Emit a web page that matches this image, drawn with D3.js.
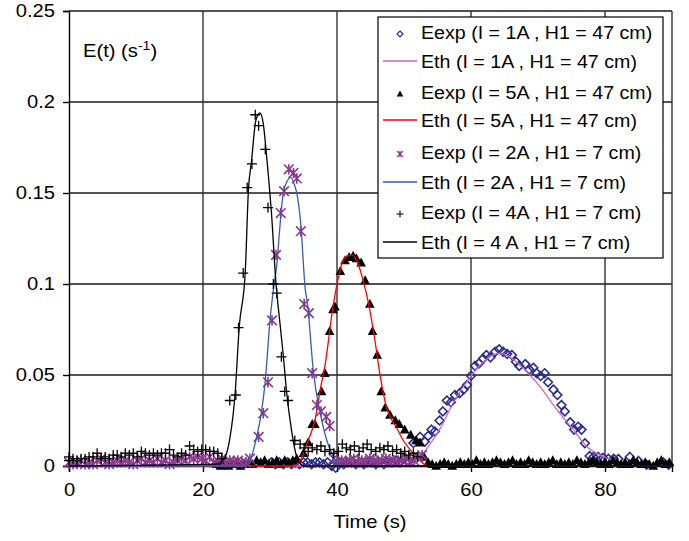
<!DOCTYPE html>
<html><head><meta charset="utf-8">
<script src="https://cdn.jsdelivr.net/npm/d3@7"></script>
<style>
body{margin:0;background:#fff;}
svg{display:block;font-family:"Liberation Sans",Arial,sans-serif;}
</style></head>
<body>
<svg id="chart" width="689" height="541"></svg>
<script>
// ---------- DATA ----------
const xTicks = [0, 20, 40, 60, 80];
const yTicks = [0, 0.05, 0.1, 0.15, 0.2, 0.25];
const yTickLabels = ["0", "0.05", "0.1", "0.15", "0.2", "0.25"];
const legendLabels = [
  "Eexp (I = 1A , H1 = 47 cm)",
  "Eth (I = 1A , H1 = 47 cm)",
  "Eexp (I = 5A , H1 = 47 cm)",
  "Eth (I = 5A , H1 = 47 cm)",
  "Eexp (I = 2A , H1 = 7 cm)",
  "Eth (I = 2A , H1 = 7 cm)",
  "Eexp (I = 4A , H1 = 7 cm)",
  "Eth (I = 4 A , H1 = 7 cm)"
];

// Eexp I=1A, H1=47 cm  [t, E]
const exp1A = [[30.2,0.002],[30.8,0.001],[31.4,0.002],[32.0,0.001],[32.6,0.002],[33.2,0.001],[33.8,0.002],[34.4,0.001],[35.0,0.002],[35.6,0.002],[36.2,0.001],[36.8,0.002],[37.4,0.002],[38.0,0.001],[38.6,0.002],[39.2,0.000],[39.8,-0.001],[40.4,0.002],[41.0,0.001],[41.6,0.002],[42.2,0.002],[42.8,0.001],[43.4,0.002],[44.0,0.001],[44.6,0.002],[45.2,0.002],[45.8,0.001],[46.4,0.002],[47.0,0.001],[47.6,0.002],[48.2,0.002],[48.8,0.003],[49.4,0.002],[50.0,0.004],[50.6,0.003],[51.4,0.0126],[52.4,0.016],[53.1,0.0134],[53.6,0.0165],[54.1,0.020],[54.6,0.019],[55.3,0.025],[55.8,0.030],[56.4,0.036],[57.0,0.035],[57.6,0.039],[58.3,0.040],[58.9,0.042],[59.4,0.0445],[60.0,0.0496],[60.6,0.055],[61.2,0.0564],[61.8,0.059],[62.3,0.061],[62.9,0.0597],[63.6,0.0628],[64.2,0.0641],[64.8,0.0628],[65.4,0.0615],[66.1,0.061],[66.7,0.0573],[67.2,0.055],[68.1,0.056],[68.7,0.053],[69.3,0.054],[69.8,0.051],[70.4,0.0494],[71.0,0.051],[71.5,0.046],[72.3,0.042],[72.9,0.039],[73.5,0.0335],[74.0,0.030],[74.8,0.024],[75.4,0.020],[76.0,0.0216],[76.5,0.020],[77.0,0.0125],[77.7,0.0055],[78.3,0.005],[79.0,0.005],[79.7,0.0045],[80.5,0.004],[81.3,0.004],[82.0,0.0038],[83.7,0.005],[85.0,0.0027],[86.2,0.0007],[88.7,0.002],[89.5,0.0007]];
// Eth I=1A, H1=47 cm
const th1A = [[0,0],[51,0],[52.3,0.004],[53.6,0.0106],[55.3,0.020],[57.4,0.035],[59.9,0.049],[61.8,0.057],[63.0,0.0605],[64.2,0.062],[65.5,0.0605],[67.8,0.0537],[70.3,0.0436],[72.8,0.031],[75.3,0.0198],[77.3,0.0106],[79.3,0.006],[81.2,0.003],[84,0.001],[90,0]];

// Eexp I=5A, H1=47 cm
const exp5A = [[22.0,0.001],[22.6,0.000],[23.2,0.001],[23.8,0.000],[24.4,0.001],[25.0,0.002],[25.6,0.000],[26.2,0.001],[26.8,0.002],[27.4,0.001],[28.0,0.003],[28.6,0.002],[29.2,0.003],[29.8,0.001],[30.4,0.002],[31.0,0.003],[31.6,0.001],[32.2,0.003],[32.8,0.002],[33.4,0.003],[34.0,0.004],[35.0,0.007],[35.7,0.013],[36.3,0.023],[36.7,0.023],[37.7,0.041],[38.2,0.051],[38.9,0.074],[39.4,0.086],[39.7,0.0875],[40.5,0.107],[41.2,0.113],[41.8,0.1147],[42.4,0.1154],[42.9,0.114],[43.6,0.1117],[44.2,0.102],[44.9,0.089],[45.3,0.074],[46.0,0.061],[46.6,0.041],[47.2,0.032],[47.9,0.028],[48.7,0.025],[49.3,0.023],[50.1,0.020],[51.0,0.017],[51.8,0.014],[52.4,0.0128],[53.0,0.005],[53.6,0.002],[54.2,0.001],[54.8,0.000],[55.4,0.001],[56.0,0.002],[56.6,0.001],[57.2,0.000],[57.8,0.001],[58.4,0.002],[59.0,0.001],[59.6,0.002],[60.2,0.001],[60.8,0.003],[61.4,0.001],[62.0,0.002],[62.6,0.001],[63.2,0.002],[63.8,0.003],[64.4,0.002],[65.0,0.001],[65.6,0.002],[66.2,0.003],[66.8,0.001],[67.4,0.002],[68.0,0.001],[68.6,0.003],[69.2,0.002],[69.8,0.001],[70.4,0.002],[71.0,0.001],[71.6,0.002],[72.2,0.003],[72.8,0.001],[73.4,0.002],[74.0,0.001],[74.6,0.002],[75.2,0.001],[75.8,0.003],[76.4,0.002],[77.0,0.001],[77.6,0.002],[78.2,0.003],[78.8,0.002],[79.4,0.001],[80.0,0.002],[80.6,0.001],[81.2,0.003],[81.8,0.002],[82.4,0.001],[83.0,0.002],[83.6,0.001],[84.2,0.003],[84.8,0.002],[85.4,0.001],[86.0,0.002],[86.6,0.001],[87.2,0.000],[87.8,0.002],[88.4,0.003],[89.0,0.001],[89.6,0.002]];
// Eth I=5A, H1=47 cm
const th5A = [[0,0],[33.5,0],[34.5,0.003],[35.0,0.007],[35.7,0.014],[36.7,0.025],[37.6,0.044],[38.2,0.055],[39.4,0.0875],[40.3,0.105],[40.9,0.113],[41.5,0.1155],[42.2,0.116],[42.9,0.113],[43.9,0.102],[44.8,0.0875],[45.7,0.068],[46.4,0.0505],[47.4,0.032],[48.9,0.021],[49.9,0.014],[50.9,0.009],[52.4,0.003],[53.5,0],[90,0]];

// Eexp I=2A, H1=7 cm
const exp2A = [[0,0.002],[0.6,0.001],[1.2,0.002],[1.8,0.003],[2.4,0.001],[3.0,0.002],[3.6,0.001],[4.2,0.003],[4.8,0.004],[5.4,0.002],[6.0,0.001],[6.6,0.002],[7.2,0.003],[7.8,0.002],[8.4,0.003],[9.0,0.002],[9.6,0.001],[10.2,0.003],[10.8,0.004],[11.4,0.002],[12.0,0.003],[12.6,0.002],[13.2,0.004],[13.8,0.002],[14.4,0.003],[15.0,0.001],[15.6,0.002],[16.2,0.003],[16.8,0.004],[17.4,0.003],[18.0,0.005],[18.6,0.004],[19.2,0.005],[19.8,0.004],[20.4,0.003],[21.0,0.005],[21.6,0.002],[22.2,0.003],[22.8,0.004],[23.4,0.002],[24.0,0.003],[24.6,0.002],[25.2,0.003],[25.8,0.002],[26.4,0.002],[27.0,0.004],[28.3,0.016],[29.0,0.029],[29.7,0.046],[30.3,0.080],[30.9,0.116],[31.6,0.139],[32.1,0.151],[32.8,0.163],[33.5,0.161],[34.0,0.158],[34.6,0.129],[35.1,0.089],[35.8,0.084],[36.3,0.051],[37.0,0.0335],[37.6,0.030],[38.4,0.027],[38.9,0.022],[39.5,0.004],[40.1,0.002],[40.7,0.003],[41.3,0.002],[41.9,0.003],[42.5,0.004],[43.1,0.002],[43.7,0.003],[44.3,0.002],[44.9,0.004],[45.5,0.003],[46.1,0.002],[46.7,0.003],[47.3,0.004],[47.9,0.002],[48.5,0.003],[49.1,0.002],[49.7,0.003],[50.3,0.004],[50.9,0.002],[51.5,0.003],[52.1,0.005],[52.7,0.006]];
// Eth I=2A, H1=7 cm
const th2A = [[0,0],[26,0],[27,0.003],[28,0.016],[28.7,0.029],[29.3,0.047],[30.0,0.080],[30.6,0.0995],[31.0,0.110],[31.4,0.128],[31.9,0.148],[32.5,0.156],[33.1,0.1586],[33.6,0.155],[34.1,0.148],[34.7,0.128],[35.0,0.110],[35.2,0.0995],[35.6,0.089],[36.5,0.051],[37.5,0.029],[38.4,0.015],[39.2,0.007],[39.8,0.002],[41,0],[90,0]];

// Eexp I=4A, H1=7 cm
const exp4A = [[0,0.005],[0,0.003],[0.6,0.004],[1.2,0.003],[1.8,0.004],[2.4,0.004],[3.0,0.005],[3.6,0.005],[4.2,0.007],[4.8,0.004],[5.4,0.005],[6.0,0.004],[6.6,0.006],[7.2,0.006],[7.8,0.005],[8.4,0.007],[9.0,0.006],[9.6,0.007],[10.2,0.005],[10.8,0.008],[11.4,0.007],[12.0,0.006],[12.6,0.007],[13.2,0.006],[13.8,0.007],[14.4,0.007],[15.0,0.009],[15.6,0.006],[16.2,0.005],[16.8,0.007],[17.4,0.006],[18.0,0.011],[18.6,0.009],[19.2,0.008],[19.8,0.009],[20.4,0.009],[21.0,0.008],[21.6,0.008],[22.2,0.007],[22.8,0.004],[24.0,0.036],[24.9,0.039],[25.3,0.076],[26.0,0.106],[26.6,0.153],[27.3,0.166],[27.8,0.193],[28.3,0.187],[29.3,0.174],[29.7,0.142],[30.5,0.100],[31.0,0.095],[31.7,0.060],[32.2,0.041],[32.7,0.036],[33.7,0.014],[34.5,0.012],[35.1,0.010],[35.7,0.008],[36.3,0.010],[37.0,0.009],[37.6,0.011],[38.2,0.008],[38.9,0.009],[39.5,0.007],[40.2,0.008],[40.8,0.012],[41.4,0.010],[42.0,0.009],[42.6,0.011],[43.3,0.008],[43.9,0.010],[44.5,0.012],[45.1,0.009],[45.8,0.008],[46.4,0.010],[47.0,0.009],[47.6,0.011],[48.3,0.008],[48.9,0.009],[49.5,0.007],[50.1,0.008],[50.7,0.006],[51.4,0.007],[52.0,0.005]];
// Eth I=4A, H1=7 cm
const th4A = [[0,0],[22,0.001],[23.3,0.005],[24.0,0.015],[24.8,0.04],[25.4,0.076],[26.3,0.106],[26.8,0.153],[27.2,0.166],[27.9,0.19],[28.5,0.194],[29.0,0.188],[29.4,0.174],[29.8,0.158],[30.2,0.14],[30.9,0.10],[31.5,0.078],[32.0,0.06],[32.5,0.04],[33.2,0.02],[34.0,0.005],[35,0],[90,0]];

// ---------- CHART ----------
const svg = d3.select("#chart");
const x = d3.scaleLinear().domain([0, 90]).range([69, 672]);
const y = d3.scaleLinear().domain([0, 0.25]).range([466, 11]);
const FONT = 18.5;
const STRETCH = 1.09;

const diamondColor = "#2b2e8c";
const starColor = "#8a3a8c";
const lineColors = {th1A: "#cc66cc", th5A: "#ff0000", th2A: "#3a5bb0", th4A: "#000000"};

// grid
const grid = svg.append("g");
grid.selectAll("line.h").data(yTicks.filter(d => d > 0)).join("line")
  .attr("x1", x(0)).attr("x2", x(90)).attr("y1", d => y(d)).attr("y2", d => y(d))
  .attr("stroke", "#1a1a1a").attr("stroke-width", 1.4);
grid.selectAll("line.v").data(xTicks.filter(d => d > 0).concat([90])).join("line")
  .attr("y1", y(0)).attr("y2", y(0.25)).attr("x1", d => x(d)).attr("x2", d => x(d))
  .attr("stroke", "#333").attr("stroke-width", 1.4);

// axes
const yAxis = d3.axisLeft(y).tickValues(yTicks).tickFormat((d, i) => yTickLabels[i]).tickSize(6).tickPadding(8);
const gy = svg.append("g").attr("transform", `translate(${x(0)},0)`).call(yAxis);
const xAxis = d3.axisBottom(x).tickValues(xTicks).tickFormat(d3.format("d")).tickSize(6).tickPadding(11);
const gx = svg.append("g").attr("transform", `translate(0,${y(0)})`).call(xAxis);
[gx, gy].forEach(g => {
  g.select(".domain").attr("stroke", "#000").attr("stroke-width", 1.4);
  g.selectAll(".tick line").attr("stroke", "#000").attr("stroke-width", 1.4);
  g.selectAll("text").attr("font-size", FONT).attr("fill", "#000")
    .attr("font-family", '"Liberation Sans",Arial,sans-serif');
});

// axis titles
svg.append("text").attr("x", 370).attr("y", 528).attr("text-anchor", "middle")
  .attr("font-size", FONT).text("Time (s)");
const et = svg.append("text").attr("x", 83).attr("y", 57).attr("font-size", FONT);
et.append("tspan").text("E(t) (s");
et.append("tspan").attr("dy", -7).attr("font-size", 13).text("-1");
et.append("tspan").attr("dy", 7).text(")");

// marker paths
const symDiamond = "M0,-4.4L4.4,0L0,4.4L-4.4,0Z";
const symTriangle = "M0,-5.2L4.8,3.8L-4.8,3.8Z";
const symStar = "M-4.8,-4.8L4.8,4.8M-4.8,4.8L4.8,-4.8M0,-5.2V5.2";
const symPlus = "M-5,0H5M0,-5V5";

function drawMarkers(data, kind) {
  const g = svg.append("g");
  const sel = g.selectAll("path").data(data).join("path")
    .attr("transform", d => `translate(${x(d[0])},${y(d[1])})`);
  if (kind === "diamond") sel.attr("d", symDiamond).attr("fill", "none").attr("stroke", diamondColor).attr("stroke-width", 1.6);
  if (kind === "triangle") sel.attr("d", symTriangle).attr("fill", "#000");
  if (kind === "star") sel.attr("d", symStar).attr("fill", "none").attr("stroke", starColor).attr("stroke-width", 1.6);
  if (kind === "plus") sel.attr("d", symPlus).attr("fill", "none").attr("stroke", "#000").attr("stroke-width", 1.3);
}
const line = d3.line().x(d => x(d[0])).y(d => y(d[1])).curve(d3.curveMonotoneX);
function drawLine(data, color) {
  svg.append("path").datum(data).attr("d", line).attr("fill", "none")
    .attr("stroke", color).attr("stroke-width", 1.3);
}

drawMarkers(exp1A, "diamond");
drawLine(th1A, lineColors.th1A);
drawMarkers(exp5A, "triangle");
drawLine(th5A, lineColors.th5A);
drawMarkers(exp2A, "star");
drawLine(th2A, lineColors.th2A);
drawMarkers(exp4A, "plus");
drawLine(th4A, lineColors.th4A);

// legend
const lg = svg.append("g");
lg.append("rect").attr("x", 378).attr("y", 17).attr("width", 285).attr("height", 241)
  .attr("fill", "#fff").attr("stroke", "#000").attr("stroke-width", 1.2);
const legendKinds = ["diamond", "line:th1A", "triangle", "line:th5A", "star", "line:th2A", "plus", "line:th4A"];
const legendY = [32, 61, 92, 120, 152, 182, 212, 242];
legendKinds.forEach((k, i) => {
  const cy = legendY[i];
  if (k.startsWith("line:")) {
    lg.append("line").attr("x1", 383).attr("x2", 417).attr("y1", cy).attr("y2", cy)
      .attr("stroke", lineColors[k.slice(5)]).attr("stroke-width", 1.3);
  } else {
    const p = lg.append("path").attr("transform", `translate(400,${cy + 2})`);
    if (k === "diamond") p.attr("d", "M0,-3L3,0L0,3L-3,0Z").attr("fill", "none").attr("stroke", diamondColor).attr("stroke-width", 1.2);
    if (k === "triangle") p.attr("d", "M0,-3.5L3.3,2.6L-3.3,2.6Z").attr("fill", "#000");
    if (k === "star") p.attr("d", "M-3,-3L3,3M-3,3L3,-3M0,-3.5V3.5").attr("fill", "none").attr("stroke", starColor).attr("stroke-width", 1.2);
    if (k === "plus") p.attr("d", "M-3.5,0H3.5M0,-3.5V3.5").attr("fill", "none").attr("stroke", "#000").attr("stroke-width", 1.1);
  }
  lg.append("text").attr("x", 421).attr("y", cy + 6.5).attr("font-size", 18).text(legendLabels[i]);
});

// Slight horizontal stretch of all text to match the reference typeface width
svg.selectAll("text").each(function() {
  const w = this.getComputedTextLength();
  if (w > 0) d3.select(this).attr("textLength", w * STRETCH).attr("lengthAdjust", "spacingAndGlyphs");
});
</script>
</body></html>
